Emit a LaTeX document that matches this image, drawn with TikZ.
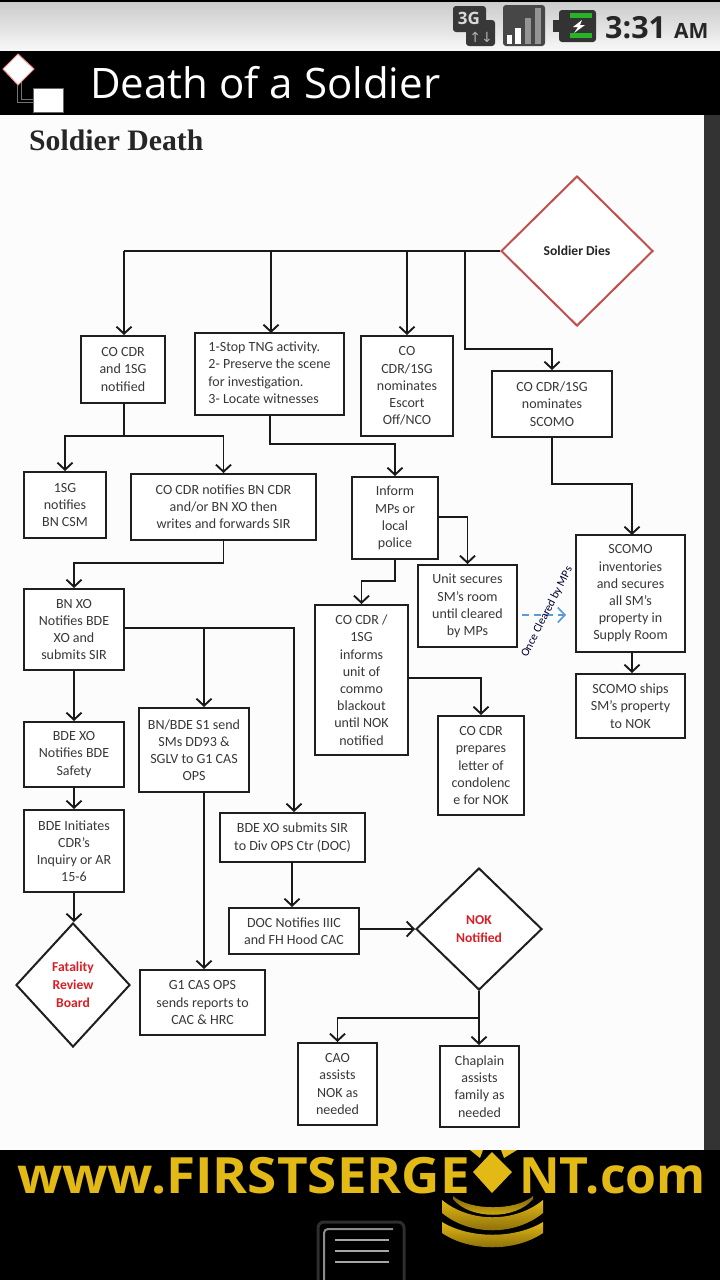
\documentclass[tikz,border=0pt]{standalone}
\usepackage{fontspec}
\setmainfont{Carlito}
\newfontfamily\opensans{Open Sans}
\newfontfamily\serifb{Liberation Serif}
\usetikzlibrary{arrows.meta,shapes.geometric,calc}
\definecolor{boxtext}{HTML}{383838}
\definecolor{alertred}{HTML}{D81F26}
\definecolor{diared}{HTML}{C0504D}
\definecolor{gold}{HTML}{E2B915}
\definecolor{goldd}{HTML}{7E6408}
\definecolor{dashblue}{HTML}{5B9BD5}
\tikzset{
  bx/.style={draw=black!88,line width=2pt,fill=white,inner sep=0pt,align=center,text=boxtext,font=\fontsize{14}{17.2}\selectfont},
  dia/.style={diamond,draw=black!88,line width=2pt,fill=white,inner sep=0pt,align=center,font=\fontsize{13.6}{18}\selectfont\bfseries},
  lnk/.style={line width=1.9pt,draw=black!90},
  arr/.style={lnk,-{Straight Barb[length=7pt,width=15pt,line width=1.9pt]}},
}
\newcommand{\bxn}[6]{\node[bx,minimum width={(#4)-(#2)},minimum height={(#5)-(#3)}] (#1) at ({((#2)+(#4))/2},{((#3)+(#5))/2}) {#6};}
\begin{document}
\begin{tikzpicture}[x=1pt,y=-1pt]
\useasboundingbox (0,0) rectangle (720,1280);
% chrome
\fill[black] (0,0) rectangle (720,1280);
\shade[top color=white!80!black,bottom color=white!97!black,middle color=white!88!black] (0,2) rectangle (720,50);
\fill[white!99!black] (0,115) rectangle (704,1150);
\fill[white!20!black] (704,115) rectangle (720,1150);
% app icon
\draw[white!45!black,line width=1pt] (17,82) -- (17,102) -- (33,102);
\draw[white!45!black,line width=1pt] (21,82) -- (21,99) -- (33,99);
\draw[fill=white,draw=red!45!white,line width=1pt] (18,54) -- (34,69) -- (18,85) -- (3,69) -- cycle;
\draw[fill=white,draw=white!40!black,line width=1pt] (33,88) rectangle (63,112);
\node[font=\opensans\fontsize{42}{42}\selectfont,text=white,anchor=base west,inner sep=0pt] (apptitle) at (90,98) {Death of a Soldier};
% status icons
\fill[white!22!black,rounded corners=3pt] (453,6) rectangle (486,32);
\fill[white!22!black,rounded corners=3pt] (466,20) rectangle (495,46);
\node[font=\opensans\bfseries\fontsize{17}{17}\selectfont,text=white!85!black,inner sep=0pt] (threeg) at (469,18) {3G};
\node[font=\fontsize{14}{14}\selectfont,text=white!70!black,inner sep=0pt] (updown) at (481,37) {\fontspec{DejaVu Sans}↑↓};
\fill[white!28!black,rounded corners=3pt] (503,5) rectangle (545,46);
\fill[white] (507,35) rectangle (512,44);
\fill[white] (515,28) rectangle (521,44);
\fill[white!58!black] (525,18) rectangle (531,44);
\fill[white!58!black] (535,8) rectangle (541,44);
\fill[white!20!black,rounded corners=3pt] (559,10) rectangle (596,42);
\fill[white!20!black] (553,20) rectangle (560,32);
\fill[green!65!black!85!white] (570,13) rectangle (592,18);
\fill[green!65!black!85!white] (570,33) rectangle (592,38);
\fill[white] (582,20) -- (573,27) -- (578,27) -- (574,33) -- (585,25) -- (580,25) -- cycle;
\node[font=\opensans\fontsize{30.5}{31}\selectfont\bfseries,text=black!85,anchor=base west,inner sep=0pt] (clock) at (605,38) {3:31};
\node[font=\opensans\fontsize{21}{21}\selectfont\bfseries,text=black!85,anchor=base west,inner sep=0pt] (ampm) at (674,38) {AM};
% heading
\node[font=\serifb\bfseries\fontsize{29.7}{30}\selectfont,text=black!85,anchor=base west,inner sep=0pt] (heading) at (29,150) {Soldier Death};
% shapes
\node[dia,draw=diared,minimum width=152pt,minimum height=150pt,text=black!85] (dies) at (577,251) {Soldier Dies};
\bxn{co}{81}{336}{165}{403}{CO CDR\\and 1SG\\notified}
\bxn{stop}{195}{333}{344}{415}{\begin{tabular}{@{}l@{}}1-Stop TNG activity.\\2- Preserve the scene\\for investigation.\\3- Locate witnesses\end{tabular}}
\bxn{escort}{361}{336}{453}{436}{CO\\CDR/1SG\\nominates\\Escort\\Off/NCO}
\bxn{scnom}{492}{371}{612}{437}{CO CDR/1SG\\nominates\\SCOMO}
\bxn{csm}{24}{472}{106}{538}{1SG\\notifies\\BN CSM}
\bxn{bncdr}{131}{474}{316}{540}{CO CDR notifies BN CDR\\and/or BN XO then\\writes and forwards SIR}
\bxn{inform}{352}{477}{438}{559}{Inform\\MPs or\\local\\police}
\bxn{unit}{418}{565}{517}{647}{Unit secures\\SM’s room\\until cleared\\by MPs}
\bxn{scinv}{576}{535}{685}{652}{SCOMO\\inventories\\and secures\\all SM’s\\property in\\Supply Room}
\bxn{scship}{576}{674}{685}{738}{SCOMO ships\\SM’s property\\to NOK}
\bxn{blackout}{315}{605}{408}{755}{CO CDR /\\1SG\\informs\\unit of\\commo\\blackout\\until NOK\\notified}
\bxn{letter}{438}{716}{524}{815}{CO CDR\\prepares\\letter of\\condolenc\\e for NOK}
\bxn{bnxo}{24}{589}{124}{670}{BN XO\\Notifies BDE\\XO and\\submits SIR}
\bxn{bdexo}{24}{722}{124}{787}{BDE XO\\Notifies BDE\\Safety}
\bxn{sone}{139}{708}{249}{792}{BN/BDE S1 send\\SMs DD93 \&\\SGLV to G1 CAS\\OPS}
\bxn{inq}{24}{810}{124}{892}{BDE Initiates\\CDR’s\\Inquiry or AR\\15-6}
\bxn{sir}{220}{813}{365}{862}{BDE XO submits SIR\\to Div OPS Ctr (DOC)}
\bxn{doc}{229}{908}{359}{954}{DOC Notifies IIIC\\and FH Hood CAC}
\bxn{gone}{140}{970}{265}{1035}{G1 CAS OPS\\sends reports to\\CAC \& HRC}
\bxn{cao}{298}{1043}{377}{1125}{CAO\\assists\\NOK as\\needed}
\bxn{chap}{440}{1046}{519}{1127}{Chaplain\\assists\\family as\\needed}
\node[dia,minimum width=114pt,minimum height=124pt,text=alertred] (frb) at (73,985) {Fatality\\Review\\Board};
\node[dia,minimum width=126pt,minimum height=122pt,text=alertred] (nok) at (479,929) {NOK\\Notified};
% junction points
\coordinate (busw) at (124,251);
\coordinate (busa) at (465,251);
\coordinate (busb) at (465,349);
\coordinate (cojn) at (124,436);
\coordinate (nojn) at (479,1018);
\coordinate (bnxr) at (294,628);
\coordinate (bnxm) at (204,628);
\coordinate (stopx) at (271,333);
\coordinate (stopb) at (270,415);
\coordinate (scinx) at (632,535);
\coordinate (sirx) at (292,862);
% connectors
\draw[lnk] (dies.west) -- (busw);
\draw[arr] (busw) -- (co.north -| busw);
\draw[arr] (dies.west -| stopx) -- (stopx);
\draw[arr] (dies.west -| escort.north) -- (escort.north);
\draw[arr] (busa) -- (busb) -| (scnom.north);
\draw[lnk] (co.south -| cojn) -- (cojn);
\draw[arr] (cojn) -| (csm.north);
\draw[arr] (cojn) -| (bncdr.north);
\draw[arr] (stopb) -- (stopb |- 0,444) -| (inform.north);
\draw[arr] (scnom.south) -- (scnom.south |- 0,484) -| (scinx);
\draw[arr] (inform.east |- 0,517) -| (unit.north);
\draw[arr] (inform.south) -- (inform.south |- 0,581) -| (blackout.north);
\draw[line width=1.7pt,draw=dashblue,dash pattern=on 7pt off 5pt,-{Straight Barb[length=7pt,width=15pt,line width=1.7pt]}] (unit.east |- 0,615) ++(4,0) -- (566,615);
\draw[arr] (scinv.south -| scinx) -- (scship.north -| scinx);
\draw[arr] (blackout.east |- 0,678) -| (letter.north);
\draw[arr] (bncdr.south) -- (bncdr.south |- 0,563) -| (bnxo.north);
\draw[arr] (bnxo.east |- bnxr) -- (bnxr) -- (sir.north -| bnxr);
\draw[arr] (bnxm) -- (sone.north -| bnxm);
\draw[arr] (bnxo.south) -- (bdexo.north);
\draw[arr] (bdexo.south) -- (inq.north);
\draw[arr] (inq.south) -- (inq.south |- frb.north);
\draw[arr] (sone.south -| bnxm) -- (gone.north -| bnxm);
\draw[arr] (sirx) -- (doc.north -| sirx);
\draw[arr] (doc.east |- nok.west) -- (nok.west);
\draw[arr] (nok.south) -- (chap.north -| nok.south);
\draw[arr] (nojn) -| (cao.north);
\node[rotate=63,font=\fontsize{11.6}{12}\selectfont,text=black!75!blue!70!black,inner sep=0pt] (cleared) at (547,612) {Once Cleared by MPs};
% footer
\fill[gold] (470,1150) -- (483,1150) -- (480,1158) -- cycle;
\fill[gold] (501,1150) -- (517,1150) -- (504,1158) -- cycle;
\shade[top color=goldd,bottom color=gold] (453,1196) .. controls (470,1211) and (516,1211) .. (533,1196) -- (533,1199) .. controls (516,1220) and (470,1220) .. (453,1199) -- cycle;
\shade[top color=gold,bottom color=goldd] (442,1200) .. controls (470,1223) and (515,1223) .. (543,1200) -- (543,1213) .. controls (515,1236) and (470,1236) .. (442,1213) -- cycle;
\shade[top color=gold,bottom color=goldd] (442,1222) .. controls (470,1239) and (515,1239) .. (543,1222) -- (543,1233) .. controls (515,1252) and (470,1252) .. (442,1233) -- cycle;
\node[font=\opensans\fontsize{50}{50}\selectfont\bfseries,text=gold,anchor=base west,inner sep=0pt,xscale=1.06] (urla) at (17,1193) {www.FIRSTSERGE};
\fill[gold] (492,1152) -- (512,1172) -- (492,1193) -- (473,1172) -- cycle;
\node[font=\opensans\fontsize{50}{50}\selectfont\bfseries,text=gold,anchor=base west,inner sep=0pt] (urlb) at (519,1193) {NT.com};
% menu key
\draw[white!18!black,line width=3pt,rounded corners=6pt] (318,1280) -- (318,1222) -- (404,1222) -- (404,1280);
\draw[white!55!black,line width=2pt,rounded corners=4pt] (324,1280) -- (324,1229) -- (393,1229);
\foreach \yy in {1240,1251,1262}{\draw[white!65!black,line width=1.6pt] (335,\yy) -- (389,\yy);}
\end{tikzpicture}
\end{document}
